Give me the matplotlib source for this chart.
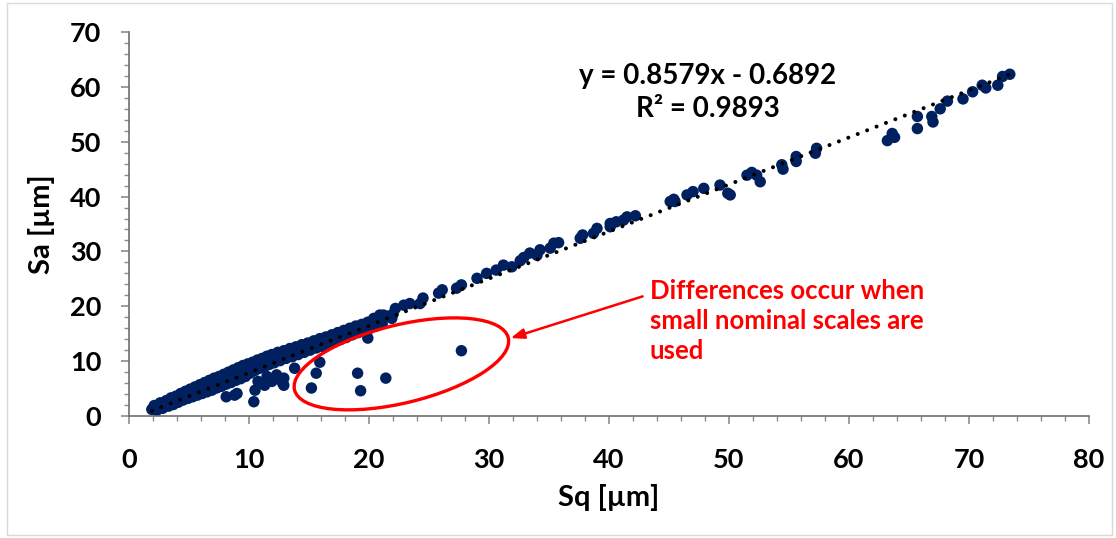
import numpy as np
import matplotlib
matplotlib.use('Agg')
import matplotlib.pyplot as plt
from matplotlib.patches import Ellipse, Rectangle
from matplotlib.transforms import ScaledTranslation

plt.rcParams['font.family'] = ['Lato', 'DejaVu Sans']

# Sq / Sa pairs
# dense band (small scales)
sq_band = [1.9, 2.1, 2.3, 2.6, 2.8, 3.1, 3.3, 3.5, 3.7, 3.9, 4.1, 4.3, 4.5, 4.7, 4.9,
           5.1, 5.3, 5.5, 5.7, 5.9, 6.1, 6.3, 6.5, 6.7, 6.9, 7.1, 7.3, 7.5, 7.7, 7.9,
           8.1, 8.3, 8.5, 8.7, 8.9, 9.1, 9.3, 9.5, 9.7, 9.9, 10.1, 10.3, 10.5, 10.7, 10.9,
           11.1, 11.3, 11.5, 11.7, 11.9, 12.1, 12.4, 12.6, 12.9, 13.1, 13.4, 13.6, 13.9, 14.1, 14.4,
           14.6, 14.9, 15.1, 15.4, 15.6, 15.9, 16.1, 16.4, 16.6, 16.9, 17.1, 17.4, 17.6, 17.9, 18.1,
           18.4, 18.6, 18.9, 19.1, 19.4, 19.6, 19.9, 20.1, 20.4, 20.6, 20.9, 21.1, 21.5, 22.0,
           4.0, 5.8, 7.6, 9.4, 10.2, 11.0, 12.2, 13.0, 14.0, 15.0, 16.0, 17.0, 18.0]
sa_band = [1.2, 1.9, 1.0, 2.4, 1.4, 2.8, 1.8, 3.3, 2.1, 3.6, 2.5, 4.1, 2.9, 4.5, 3.2,
           4.9, 3.5, 5.3, 3.8, 5.7, 4.1, 6.1, 4.4, 6.5, 4.7, 6.9, 5.1, 7.2, 5.4, 7.6,
           5.8, 8.0, 6.1, 8.4, 6.5, 8.8, 6.8, 9.2, 7.2, 9.5, 7.8, 9.8, 8.3, 10.2, 8.7,
           10.5, 9.0, 10.9, 9.4, 11.2, 9.7, 11.6, 10.1, 11.9, 10.5, 12.3, 10.8, 12.6, 11.2, 13.0,
           11.6, 13.3, 12.0, 13.7, 12.4, 14.1, 12.7, 14.4, 13.1, 14.8, 13.5, 15.2, 13.9, 15.6, 14.3,
           16.0, 14.8, 16.4, 15.2, 16.7, 15.6, 17.1, 16.0, 17.5, 16.4, 17.9, 16.8, 18.2, 18.6,
           3.0, 4.6, 6.1, 7.7, 8.4, 9.1, 10.1, 10.8, 11.6, 12.4, 13.2, 14.0, 15.0]

# larger scales
sq_upper = [73.4, 72.8, 72.4, 71.4, 71.1, 70.3, 69.5, 68.2, 67.6, 67.0, 66.9, 65.7, 65.7,
            63.8, 63.6, 63.2, 57.3, 57.2, 55.6, 55.6, 54.4, 54.5, 51.9, 51.5, 52.3, 52.6,
            50.1, 49.9, 49.25, 47.9, 47.0, 46.5, 45.4, 45.1, 45.5, 42.2, 41.5, 41.2, 40.6,
            40.1, 40.1, 39.0, 38.7, 37.8, 37.6, 35.8, 35.4, 35.1, 34.25, 34.0, 33.4, 32.9,
            32.6, 31.9, 31.2, 30.6, 29.8, 29.0, 27.7, 27.3, 26.1, 25.8, 24.5, 24.25, 23.4,
            22.9, 22.2, 21.9, 20.9, 20.4, 21.2]
sa_upper = [62.3, 61.9, 60.3, 59.8, 60.3, 59.1, 57.8, 57.4, 56.0, 53.6, 54.6, 54.6, 52.4,
            50.8, 51.5, 50.2, 48.8, 47.9, 47.3, 46.4, 45.8, 45.0, 44.4, 43.9, 43.9, 42.7,
            40.3, 40.6, 42.1, 41.5, 40.9, 40.3, 39.5, 39.1, 39.1, 36.5, 36.3, 35.7, 35.4,
            35.1, 34.5, 34.2, 33.3, 33.0, 32.4, 31.6, 31.5, 30.6, 30.3, 29.3, 29.7, 28.9,
            28.3, 27.2, 27.5, 26.6, 26.0, 25.1, 23.9, 23.3, 23.0, 22.4, 21.5, 20.5, 20.5,
            20.2, 19.6, 17.8, 18.4, 17.8, 18.4]

# deviating points
sq_out = [27.7, 21.4, 19.05, 19.3, 19.9, 15.6, 15.2, 15.9, 13.8, 12.9, 12.9, 12.0, 11.3,
          10.5, 10.4, 9.0, 8.1, 8.8, 11.9, 10.75, 11.5, 12.3, 12.8]
sa_out = [11.9, 6.9, 7.8, 4.6, 14.2, 7.8, 5.1, 9.8, 8.7, 5.6, 6.9, 6.6, 5.6,
          4.7, 2.6, 4.1, 3.5, 3.8, 6.3, 6.3, 7.2, 7.5, 6.0]

slope = 0.8579
intercept = -0.6892
r2 = 0.9893

sq = np.array(sq_band + sq_upper + sq_out)
sa = np.array(sa_band + sa_upper + sa_out)

fig = plt.figure(figsize=(11.16, 5.38), dpi=100)
ax = fig.add_axes([0.1156, 0.2268, 0.8602, 0.7137])

ax.scatter(sq, sa, s=68, color='#002060', edgecolors='none', zorder=2)

# trend line
xl = np.array([sq.min(), sq.max()])
ax.plot(xl, slope * xl + intercept, color='black', lw=2.9,
        linestyle=(0, (0.01, 2.5)), dash_capstyle='round', zorder=3)

ax.set_xlim(0, 80)
ax.set_ylim(0, 70)
ax.set_xticks(np.arange(0, 81, 10))
ax.set_yticks(np.arange(0, 71, 10))
ax.set_xticks(np.arange(0, 81, 2), minor=True)
ax.set_yticks(np.arange(0, 71, 2), minor=True)
for s in ['top', 'right']:
    ax.spines[s].set_visible(False)
for s in ['left', 'bottom']:
    ax.spines[s].set_color('#6e6e6e')
    ax.spines[s].set_linewidth(1.2)
ax.tick_params(which='major', direction='out', length=6, width=1.2, color='#8c8c8c',
               labelsize=19.5)
ax.tick_params(which='minor', direction='out', length=3.5, width=1, color='#8c8c8c')
ax.tick_params(axis='x', which='major', pad=17)
ax.tick_params(axis='y', which='major', pad=14)
for lab in ax.get_xticklabels() + ax.get_yticklabels():
    lab.set_fontweight('bold')

ax.set_xlabel('Sq [µm]', fontsize=21, fontweight='bold', labelpad=9)
ax.set_ylabel('Sa [µm]', fontsize=21, fontweight='bold', labelpad=11)

ax.text(48.2, 59.0, 'y = %.4fx - %.4f\nR² = %.4f' % (slope, -intercept, r2),
        ha='center', va='center', multialignment='center', fontsize=20,
        fontweight='bold', linespacing=1.35)

# ellipse around deviating points, drawn in inches so it keeps its shape
ell = Ellipse((0, 0), 2.2, 0.78, angle=13.7, fill=False, edgecolor='#ff0000', lw=2.4,
              transform=fig.dpi_scale_trans + ScaledTranslation(22.7, 9.5, ax.transData),
              zorder=4)
ax.add_patch(ell)

ax.annotate('', xy=(31.8, 14.2), xytext=(42.8, 21.8),
            arrowprops=dict(arrowstyle='-|>,head_length=0.8,head_width=0.3',
                            color='#ff0000', lw=1.8, shrinkA=0, shrinkB=0))
ax.text(43.4, 17.4, 'Differences occur when\nsmall nominal scales are\nused',
        color='#ff0000', fontsize=18.5, fontweight='bold', ha='left', va='center',
        linespacing=1.3)

fig.patches.append(Rectangle((0.006, 0.005), 0.99, 0.99, transform=fig.transFigure,
                             fill=False, edgecolor='#d9d9d9', lw=1))

fig.savefig('out.png', dpi=100)
